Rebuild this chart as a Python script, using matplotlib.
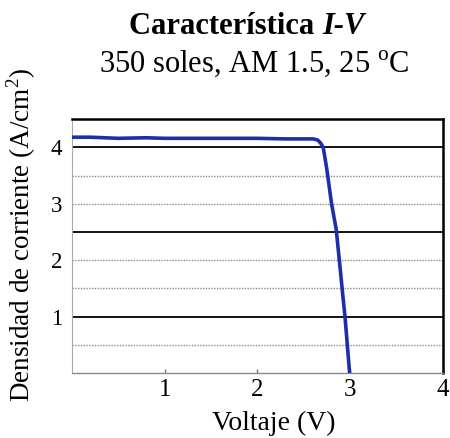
import numpy as np
import matplotlib
matplotlib.use('Agg')
import matplotlib.pyplot as plt

# I-V curve data
voltage = [0.0, 0.2, 0.5, 0.8, 1.0, 1.5, 2.0, 2.3, 2.5, 2.6, 2.65, 2.68,
           2.71, 2.75, 2.8, 2.85, 2.89, 2.92, 2.945, 2.97, 2.995]
current = [4.18, 4.18, 4.16, 4.17, 4.16, 4.16, 4.16, 4.15, 4.15, 4.15, 4.13, 4.08,
           4.0, 3.6, 3.0, 2.55, 1.9, 1.4, 1.0, 0.5, 0.0]

x_ticks = [1, 2, 3, 4]
y_ticks = [1, 2, 3, 4]
dotted_grid = [0.5, 1.5, 2.0, 3.0, 3.5]
solid_grid = [1.0, 2.5, 4.0]

plt.rcParams['font.family'] = ['Liberation Serif', 'DejaVu Serif']
plt.rcParams['mathtext.fontset'] = 'custom'
plt.rcParams['mathtext.rm'] = 'Liberation Serif'

W, H = 450, 438
fig = plt.figure(figsize=(W / 100, H / 100), dpi=100)
ax = fig.add_axes([0.16, 0.148, 0.824, 0.58])

for y in dotted_grid:
    ax.axhline(y, color='#8a8a8a', lw=1.0, ls=(0, (1, 1)), zorder=1)
for y in solid_grid:
    ax.axhline(y, color='black', lw=1.3, zorder=1)

ax.plot(voltage, current, color='#1c2fa8', lw=2.6, zorder=3)

ax.set_xlim(0, 4)
ax.set_ylim(0, 4.5)
ax.set_xticks(x_ticks)
ax.set_yticks(y_ticks)
ax.tick_params(axis='y', labelsize=16.5, length=0, pad=7)
ax.tick_params(axis='x', labelsize=18, direction='in', length=3,
               color='#777777', width=1, pad=4)

ax.spines['top'].set_color('black')
ax.spines['top'].set_linewidth(1.8)
ax.spines['right'].set_color('black')
ax.spines['right'].set_linewidth(1.8)
ax.spines['bottom'].set_color('#8a8a8a')
ax.spines['bottom'].set_linestyle((0, (1, 1)))
ax.spines['bottom'].set_linewidth(1.0)
ax.spines['left'].set_color('#aaaaaa')
ax.spines['left'].set_linewidth(0.8)

ax.set_ylabel('Densidad de corriente (A/cm$^2$)', fontsize=19.5)
ax.yaxis.set_label_coords(-0.092, 0.543)
ax.set_xlabel('Voltaje (V)', fontsize=20)
ax.xaxis.set_label_coords(0.545, -0.15)

# title: bold + bold italic, centred as one line
ty = 1 - 26 / H
t1 = fig.text(0, ty, 'Característica ', fontsize=22, fontweight='bold', va='center')
t2 = fig.text(0, ty, 'I-V', fontsize=22, fontweight='bold', style='italic', va='center')
fig.canvas.draw()
r = fig.canvas.get_renderer()
w1 = t1.get_window_extent(r).width
w2 = t2.get_window_extent(r).width
x0 = 247 - (w1 + w2) / 2
t1.set_x(x0 / W)
t2.set_x((x0 + w1) / W)

fig.text(254 / W, 1 - 64 / H, '350 soles, AM 1.5, 25 $^{\\rm o}$C', fontsize=22,
         ha='center', va='center')

fig.savefig('out.png', dpi=100)
